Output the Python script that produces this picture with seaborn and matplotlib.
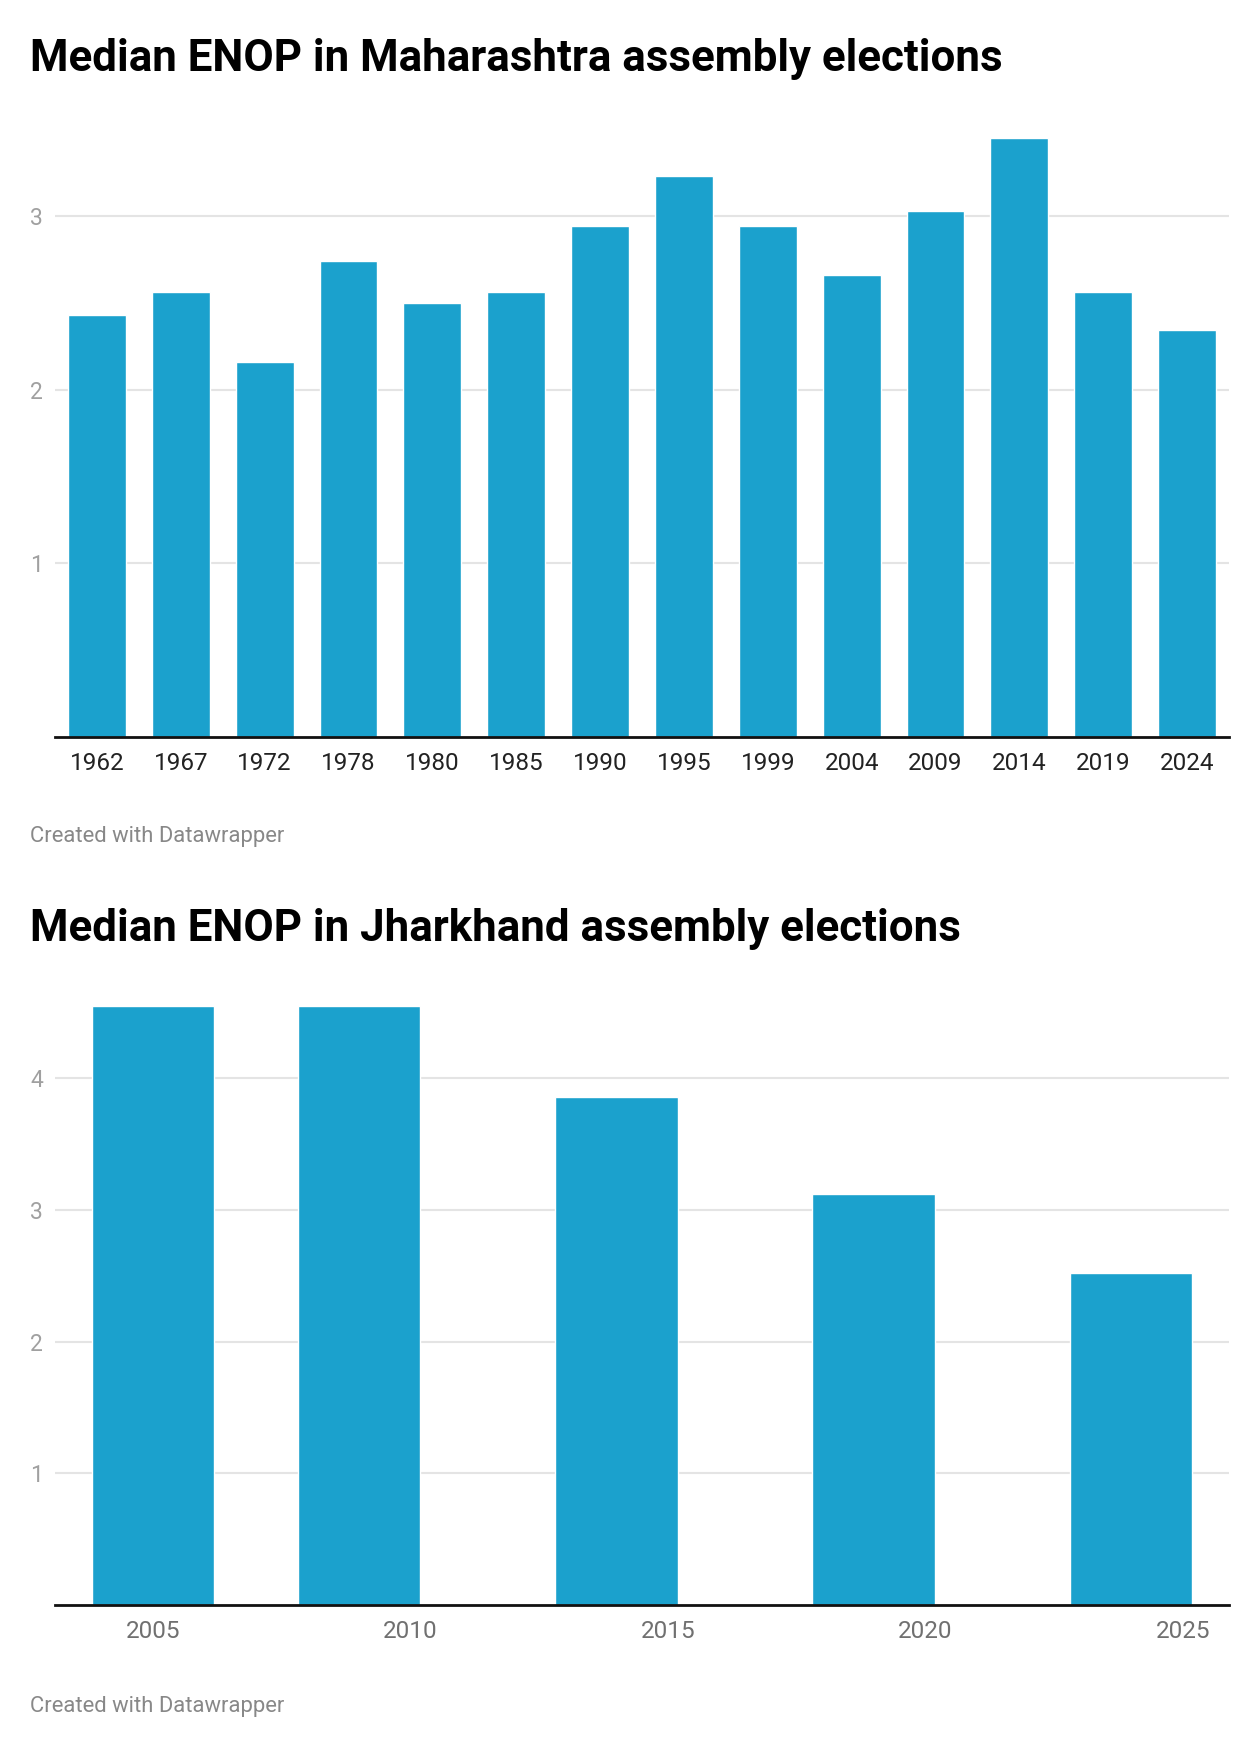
import numpy as np
import pandas as pd
import seaborn as sns
import matplotlib.pyplot as plt

# dados
mh_anos = ["1962", "1967", "1972", "1978", "1980", "1985", "1990",
           "1995", "1999", "2004", "2009", "2014", "2019", "2024"]
mh_enop = [2.43, 2.56, 2.16, 2.74, 2.50, 2.56, 2.94,
           3.23, 2.94, 2.66, 3.03, 3.45, 2.56, 2.34]

jh_anos = [2005, 2009, 2014, 2019, 2024]
jh_enop = [4.55, 4.55, 3.86, 3.12, 2.52]

cor_barra = "#1ba1cd"

sns.set_theme(style="white")
plt.rcParams["font.family"] = ["Roboto", "DejaVu Sans"]

W, H = 1260, 1748
fig = plt.figure(figsize=(W / 100, H / 100), dpi=100)


def eixo(esq, topo, dir, base):
    # coordenadas em pixels -> fracao da figura
    return fig.add_axes([esq / W, 1 - base / H, (dir - esq) / W, (base - topo) / H])


def estilo(ax, yticks, cor_x):
    sns.despine(ax=ax, left=True, top=True, right=True)
    ax.spines["bottom"].set_color("#111111")
    ax.spines["bottom"].set_linewidth(2)
    ax.set_yticks(yticks)
    ax.set_yticklabels([str(t) for t in yticks])
    ax.yaxis.grid(True, color="#e4e4e4", lw=1.5)
    ax.set_axisbelow(True)
    ax.tick_params(axis="y", length=0, pad=18, labelsize=16.5, labelcolor="#a0a0a0")
    ax.tick_params(axis="x", length=0, pad=10.5, labelsize=17.5, labelcolor=cor_x)
    for lab in ax.get_yticklabels():
        lab.set_horizontalalignment("left")
    ax.set_xlabel("")
    ax.set_ylabel("")


# Maharashtra
ax1 = eixo(55, 137.6, 1229, 737)
sns.barplot(x=mh_anos, y=mh_enop, color=cor_barra, saturation=1, width=0.69, ax=ax1)
ax1.set_xlim(-0.5, len(mh_anos) - 0.5)
ax1.set_ylim(0, max(mh_enop))
estilo(ax1, [1, 2, 3], "#222222")

# Jharkhand
ax2 = eixo(55, 1006, 1229, 1605)
sns.barplot(x=jh_anos, y=jh_enop, color=cor_barra, saturation=1, width=0.595,
            native_scale=True, ax=ax2)
ax2.set_xlim(2003.1, 2025.9)
ax2.set_ylim(0, max(jh_enop))
ax2.set_xticks([2005, 2010, 2015, 2020, 2025])
ax2.set_xticklabels(["2005", "2010", "2015", "2020", "2025"])
estilo(ax2, [1, 2, 3, 4], "#707070")

fig.text(30 / W, 1 - 70.7 / H, "Median ENOP in Maharashtra assembly elections",
         fontsize=31.6, fontweight="bold", color="#000000", va="baseline")
fig.text(30 / W, 1 - 940.7 / H, "Median ENOP in Jharkhand assembly elections",
         fontsize=31.6, fontweight="bold", color="#000000", va="baseline")
fig.text(30 / W, 1 - 841.7 / H, "Created with Datawrapper",
         fontsize=15.8, color="#888888", va="baseline")
fig.text(30 / W, 1 - 1711.7 / H, "Created with Datawrapper",
         fontsize=15.8, color="#888888", va="baseline")

plt.savefig("out.png", dpi=100)
